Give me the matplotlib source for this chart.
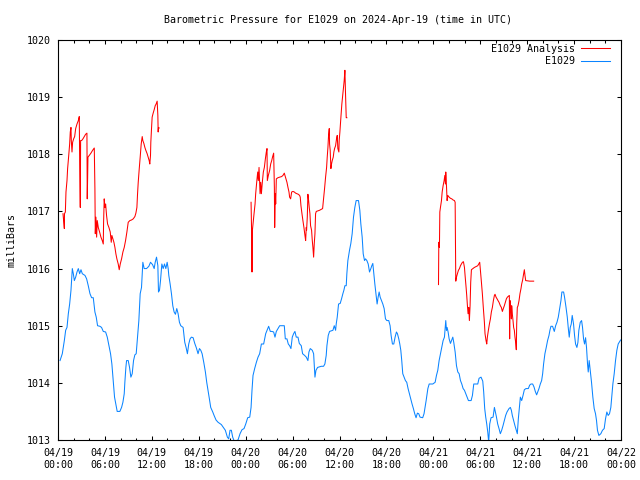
import numpy as np
import pandas as pd
import matplotlib
matplotlib.use("Agg")
import matplotlib.pyplot as plt
import matplotlib.dates as mdates

# hours after 2024-04-19 00:00 UTC, pressure in millibars
station_hours = [
    0.26, 0.55, 0.81, 0.98, 1.15, 1.32, 1.49, 1.66, 1.83, 1.96, 2.09, 2.26, 2.43, 2.60, 2.77, 2.94,
    3.11, 3.45, 3.66, 3.87, 4.09, 4.30, 4.51, 4.72, 4.89, 5.06, 5.36, 5.57, 5.79, 6.09, 6.30, 6.51,
    6.72, 6.89, 7.06, 7.23, 7.40, 7.57, 7.91, 8.13, 8.30, 8.47, 8.55, 8.68, 8.77, 8.98, 9.15, 9.32,
    9.49, 9.66, 9.83, 10.00, 10.17, 10.34, 10.51, 10.68, 10.85, 11.02, 11.32, 11.62, 11.83, 12.09,
    12.30, 12.43, 12.60, 12.77, 12.85, 12.98, 13.11, 13.28, 13.45, 13.62, 13.79, 13.96, 14.09, 14.17,
    14.34, 14.51, 14.68, 14.85, 15.02, 15.19, 15.36, 15.53, 15.70, 16.00, 16.21, 16.38, 16.55, 16.72,
    16.89, 17.06, 17.28, 17.49, 17.70, 17.91, 18.09, 18.26, 18.43, 18.64, 18.85, 19.02, 19.19, 19.36,
    19.53, 19.79, 19.96, 20.21, 20.47, 20.89, 21.15, 21.40, 21.66, 21.83, 22.00, 22.17, 22.34, 22.51,
    22.81, 23.02, 23.28, 23.53, 23.79,
    24.01, 24.26, 24.52, 24.69, 24.81, 24.94, 25.15, 25.37, 25.58, 25.79, 26.01, 26.30, 26.56, 26.73,
    26.94, 27.15, 27.37, 27.58, 27.75, 27.92, 28.13, 28.35, 28.77, 28.94, 29.07, 29.28, 29.45, 29.62,
    29.79, 29.96, 30.13, 30.30, 30.47, 30.69, 30.86, 31.11, 31.28, 31.54, 31.75, 31.96, 32.09, 32.26,
    32.52, 32.69, 32.77, 32.86, 32.99, 33.20, 33.67, 33.96, 34.13, 34.30, 34.39, 34.56, 34.73, 35.16,
    35.33, 35.50, 35.58, 35.71, 35.88, 36.09, 36.26, 36.43, 36.56, 36.69, 36.86, 36.94, 37.07, 37.28,
    37.45, 37.62, 37.79, 37.96, 38.13, 38.43, 38.60, 38.73, 38.90, 39.03, 39.20, 39.33, 39.50, 39.67,
    39.84, 40.01, 40.13, 40.26, 40.39, 40.52, 40.69, 40.81, 40.94, 41.07, 41.20, 41.37, 41.54, 41.71,
    41.88, 42.05, 42.30, 42.47, 42.60, 42.77, 42.94, 43.11, 43.28, 43.41, 43.58, 43.71, 43.84, 43.96,
    44.09, 44.26, 44.43, 44.60, 44.77, 44.94, 45.11, 45.28, 45.45, 45.62, 45.79, 45.96, 46.13, 46.30,
    46.64, 46.81,
    47.08, 47.30, 47.47, 47.93, 48.23, 48.40, 48.57, 48.74, 48.91, 49.08, 49.25, 49.42, 49.59, 49.68,
    49.76, 49.89, 50.02, 50.19, 50.36, 50.49, 50.61, 50.79, 50.96, 51.13, 51.30, 51.47, 51.64, 51.81,
    51.98, 52.15, 52.32, 52.49, 52.83, 53.00, 53.17, 53.68, 53.85, 54.10, 54.32, 54.44, 54.57, 54.70,
    54.83, 54.96, 55.08, 55.21, 55.38, 55.64, 55.81, 55.93, 56.06, 56.23, 56.40, 56.57, 56.74, 56.91,
    57.08, 57.25, 57.42, 57.68, 57.85, 57.98, 58.10, 58.27, 58.44, 58.61, 58.74, 58.87, 59.00, 59.13,
    59.30, 59.47, 59.64, 59.85, 60.15, 60.32, 60.49, 60.70, 60.87, 61.04, 61.21, 61.34, 61.51, 61.68,
    61.85, 61.98, 62.10, 62.27, 62.44, 62.61, 62.79, 62.91, 63.04, 63.25, 63.47, 63.64, 63.81, 63.98,
    64.15, 64.32, 64.44, 64.66, 64.78, 64.96, 65.13, 65.25, 65.38, 65.51, 65.64, 65.76, 65.93, 66.06,
    66.19, 66.36, 66.49, 66.61, 66.79, 66.96, 67.08, 67.21, 67.34, 67.47, 67.59, 67.72, 67.81, 67.93,
    68.06, 68.23, 68.40, 68.57, 68.74, 68.87, 68.99, 69.17, 69.42, 69.63, 69.85, 70.02, 70.19, 70.36,
    70.53, 70.70, 70.83, 70.96, 71.13, 71.30, 71.47, 71.64, 71.95,
]
station_mb = [
    1014.39, 1014.51, 1014.74, 1014.92, 1014.97, 1015.21, 1015.38, 1015.62, 1016.00, 1015.91, 1015.79,
    1015.85, 1015.94, 1016.00, 1015.91, 1015.98, 1015.91, 1015.88, 1015.82, 1015.70, 1015.56, 1015.49,
    1015.49, 1015.24, 1015.15, 1015.00, 1014.99, 1014.97, 1014.90, 1014.89, 1014.80, 1014.65, 1014.51,
    1014.33, 1014.04, 1013.75, 1013.63, 1013.50, 1013.50, 1013.57, 1013.66, 1013.81, 1014.01, 1014.27,
    1014.39, 1014.39, 1014.27, 1014.10, 1014.16, 1014.39, 1014.49, 1014.51, 1014.80, 1015.09, 1015.56,
    1015.67, 1016.11, 1016.00, 1016.00, 1016.04, 1016.11, 1016.07, 1016.00, 1016.11, 1016.20, 1016.05,
    1015.59, 1015.62, 1015.79, 1016.08, 1016.00, 1016.08, 1016.00, 1016.11, 1016.00, 1015.88, 1015.73,
    1015.56, 1015.35, 1015.24, 1015.20, 1015.30, 1015.21, 1015.06, 1015.00, 1014.97, 1014.71, 1014.62,
    1014.51, 1014.68, 1014.77, 1014.80, 1014.79, 1014.69, 1014.61, 1014.51, 1014.60, 1014.57, 1014.51,
    1014.36, 1014.19, 1014.01, 1013.87, 1013.72, 1013.57, 1013.49, 1013.43, 1013.35, 1013.31, 1013.27,
    1013.22, 1013.17, 1013.05, 1013.02, 1013.17, 1013.17, 1013.05, 1012.99, 1012.99, 1013.00, 1013.11,
    1013.18, 1013.20,
    1013.28, 1013.39, 1013.40, 1013.57, 1013.87, 1014.13, 1014.25, 1014.36, 1014.45, 1014.51, 1014.68,
    1014.68, 1014.86, 1014.92, 1014.99, 1014.90, 1014.90, 1014.89, 1014.80, 1014.90, 1014.95, 1015.00,
    1015.00, 1015.00, 1014.77, 1014.77, 1014.68, 1014.65, 1014.60, 1014.80, 1014.86, 1014.90, 1014.80,
    1014.80, 1014.69, 1014.65, 1014.51, 1014.48, 1014.45, 1014.39, 1014.54, 1014.60, 1014.57, 1014.51,
    1014.30, 1014.10, 1014.22, 1014.27, 1014.29, 1014.29, 1014.33, 1014.48, 1014.65, 1014.83, 1014.90,
    1014.92, 1015.00, 1014.92, 1015.03, 1015.15, 1015.38, 1015.39, 1015.47, 1015.56, 1015.62, 1015.70,
    1015.70, 1015.91, 1016.14, 1016.32, 1016.44, 1016.61, 1016.90, 1017.07, 1017.19, 1017.19, 1017.02,
    1016.78, 1016.55, 1016.26, 1016.14, 1016.17, 1016.14, 1016.08, 1015.94, 1016.00, 1016.05, 1016.09,
    1015.91, 1015.73, 1015.53, 1015.38, 1015.50, 1015.59, 1015.50, 1015.44, 1015.38, 1015.30, 1015.12,
    1015.09, 1015.09, 1015.00, 1014.83, 1014.68, 1014.68, 1014.80, 1014.89, 1014.86, 1014.77, 1014.68,
    1014.57, 1014.39, 1014.16, 1014.10, 1014.04, 1014.01, 1013.90, 1013.81, 1013.72, 1013.63, 1013.55,
    1013.46, 1013.39, 1013.47, 1013.46, 1013.40, 1013.39, 1013.46,
    1013.69, 1013.90, 1013.98, 1013.98, 1014.01, 1014.13, 1014.22, 1014.39, 1014.51, 1014.62, 1014.74,
    1014.80, 1015.09, 1014.92, 1014.97, 1014.89, 1014.77, 1014.69, 1014.75, 1014.80, 1014.71, 1014.54,
    1014.30, 1014.19, 1014.16, 1014.04, 1013.98, 1013.90, 1013.87, 1013.81, 1013.75, 1013.69, 1013.69,
    1013.78, 1013.98, 1013.98, 1014.08, 1014.10, 1014.03, 1013.84, 1013.55, 1013.40, 1013.28, 1013.14,
    1012.96, 1013.28, 1013.39, 1013.40, 1013.57, 1013.49, 1013.41, 1013.28, 1013.20, 1013.11, 1013.17,
    1013.25, 1013.34, 1013.43, 1013.49, 1013.55, 1013.57, 1013.52, 1013.43, 1013.34, 1013.25, 1013.17,
    1013.11, 1013.37, 1013.57, 1013.75, 1013.69, 1013.78, 1013.88, 1013.90, 1013.90, 1013.96, 1013.98,
    1013.98, 1013.93, 1013.85, 1013.79, 1013.84, 1013.90, 1013.98, 1014.04, 1014.16, 1014.33, 1014.51,
    1014.62, 1014.74, 1014.83, 1014.92, 1014.99, 1014.99, 1014.90, 1015.00, 1015.06, 1015.15, 1015.30,
    1015.44, 1015.59, 1015.59, 1015.50, 1015.33, 1015.15, 1014.97, 1014.80, 1014.97, 1015.03, 1015.18,
    1015.03, 1014.83, 1014.68, 1014.62, 1014.71, 1014.92, 1015.06, 1015.09, 1014.97, 1014.77, 1014.68,
    1014.79, 1014.62, 1014.33, 1014.19, 1014.39, 1014.22, 1014.01, 1013.75, 1013.55, 1013.46, 1013.34,
    1013.17, 1013.08, 1013.11, 1013.17, 1013.20, 1013.37, 1013.49, 1013.43, 1013.46, 1013.57, 1013.78,
    1013.98, 1014.16, 1014.39, 1014.57, 1014.68, 1014.75,
]

# analysis series, three separate runs
analysis1_hours = [
    0.64, 0.72, 0.81, 0.83, 0.94, 1.02, 1.15, 1.23, 1.36, 1.49, 1.57, 1.66, 1.70, 1.79, 1.87, 2.00,
    2.13, 2.26, 2.43, 2.60, 2.72, 2.77, 2.85, 2.89, 3.02, 3.19, 3.36, 3.53, 3.70, 3.74, 3.79, 3.83,
    4.00, 4.21, 4.43, 4.64, 4.72, 4.77, 4.85, 4.94, 5.02, 5.15, 5.32, 5.49, 5.66, 5.79, 5.83, 5.91,
    6.00, 6.09, 6.21, 6.34, 6.51, 6.68, 6.81, 6.89, 7.02, 7.15, 7.28, 7.40, 7.53, 7.70, 7.83, 7.96,
    8.13, 8.30, 8.47, 8.64, 8.81, 8.98, 9.19, 9.40, 9.62, 9.83, 9.96, 10.09, 10.17, 10.26, 10.38,
    10.51, 10.64, 10.77, 10.85, 10.98, 11.11, 11.23, 11.40, 11.53, 11.66, 11.74, 11.83, 11.87, 11.96,
    12.04, 12.17, 12.30, 12.43, 12.55, 12.68, 12.77, 12.81, 12.85, 12.94,
]
analysis1_mb = [
    1016.96, 1016.84, 1016.70, 1016.96, 1016.99, 1017.34, 1017.54, 1017.75, 1017.96, 1018.18, 1018.39,
    1018.47, 1018.24, 1018.04, 1018.21, 1018.27, 1018.31, 1018.45, 1018.53, 1018.59, 1018.66, 1017.89,
    1017.07, 1018.24, 1018.24, 1018.27, 1018.31, 1018.35, 1018.37, 1017.22, 1017.60, 1017.95, 1017.98,
    1018.02, 1018.07, 1018.11, 1017.40, 1016.61, 1016.90, 1016.55, 1016.84, 1016.72, 1016.64, 1016.55,
    1016.49, 1016.43, 1016.81, 1017.22, 1017.07, 1017.13, 1016.93, 1016.78, 1016.72, 1016.64, 1016.46,
    1016.58, 1016.52, 1016.46, 1016.37, 1016.26, 1016.17, 1016.08, 1015.98, 1016.08, 1016.17, 1016.29,
    1016.37, 1016.49, 1016.64, 1016.81, 1016.84, 1016.85, 1016.87, 1016.91, 1016.97, 1017.07, 1017.30,
    1017.51, 1017.73, 1017.95, 1018.18, 1018.31, 1018.24, 1018.19, 1018.12, 1018.07, 1018.01, 1017.95,
    1017.89, 1017.83, 1017.98, 1018.21, 1018.45, 1018.65, 1018.72, 1018.78, 1018.85, 1018.88, 1018.93,
    1018.68, 1018.39, 1018.47, 1018.46,
]
analysis2_hours = [
    24.69, 24.77, 24.81, 24.86, 24.94, 25.07, 25.20, 25.28, 25.41, 25.54, 25.62, 25.71, 25.84, 25.92,
    26.01, 26.13, 26.26, 26.39, 26.52, 26.64, 26.73, 26.77, 26.90, 27.07, 27.20, 27.33, 27.45, 27.58,
    27.67, 27.71, 27.79, 27.84, 27.92, 28.13, 28.35, 28.60, 28.77, 28.94, 29.11, 29.28, 29.41, 29.54,
    29.62, 29.75, 29.88, 30.05, 30.22, 30.39, 30.56, 30.73, 30.90, 30.98, 31.07, 31.20, 31.32, 31.45,
    31.58, 31.67, 31.75, 31.79, 31.88, 31.96, 32.05, 32.13, 32.22, 32.30, 32.43, 32.52, 32.60, 32.69,
    32.77, 32.86, 32.94, 33.03, 33.45, 33.84, 33.96, 34.09, 34.22, 34.35, 34.43, 34.52, 34.60, 34.69,
    34.73, 34.81, 34.90, 34.98, 35.07, 35.20, 35.28, 35.37, 35.50, 35.62, 35.71, 35.79, 35.92, 35.96,
    36.05, 36.18, 36.30, 36.43, 36.52, 36.60, 36.69, 36.77, 36.86, 36.94,
]
analysis2_mb = [
    1017.16, 1016.55, 1015.94, 1016.67, 1016.78, 1016.96, 1017.13, 1017.31, 1017.51, 1017.69, 1017.54,
    1017.77, 1017.31, 1017.51, 1017.31, 1017.51, 1017.69, 1017.77, 1017.92, 1018.04, 1018.10, 1017.54,
    1017.63, 1017.72, 1017.83, 1017.89, 1017.96, 1018.02, 1017.42, 1016.72, 1017.31, 1017.13, 1017.57,
    1017.59, 1017.60, 1017.61, 1017.63, 1017.67, 1017.59, 1017.51, 1017.42, 1017.34, 1017.25, 1017.22,
    1017.34, 1017.35, 1017.34, 1017.32, 1017.31, 1017.30, 1017.28, 1017.25, 1017.10, 1016.96, 1016.84,
    1016.72, 1016.58, 1016.49, 1016.72, 1016.67, 1016.90, 1017.30, 1017.19, 1017.07, 1016.96, 1016.75,
    1016.67, 1016.49, 1016.37, 1016.20, 1016.43, 1016.61, 1016.96, 1017.00, 1017.02, 1017.05, 1017.22,
    1017.40, 1017.60, 1017.77, 1017.95, 1018.12, 1018.33, 1018.45, 1018.18, 1018.07, 1017.75, 1017.83,
    1017.89, 1017.95, 1018.04, 1018.10, 1018.15, 1018.27, 1018.33, 1018.10, 1018.04, 1018.24, 1018.39,
    1018.65, 1018.88, 1019.06, 1019.18, 1019.29, 1019.47, 1019.06, 1018.64, 1018.64,
]
analysis3_hours = [
    48.66, 48.70, 48.78, 48.83, 48.91, 49.04, 49.13, 49.25, 49.38, 49.47, 49.55, 49.59, 49.68, 49.76,
    49.85, 50.02, 50.19, 50.36, 50.53, 50.70, 50.79, 50.83, 50.87, 50.96, 51.08, 51.21, 51.34, 51.47,
    51.59, 51.72, 51.85, 51.98, 52.06, 52.19, 52.27, 52.36, 52.44, 52.53, 52.61, 52.70, 52.78, 52.87,
    53.25, 53.68, 53.93, 54.02, 54.15, 54.27, 54.40, 54.53, 54.61, 54.74, 54.83, 54.91, 55.04, 55.17,
    55.30, 55.42, 55.55, 55.68, 55.81, 55.89, 56.02, 56.15, 56.27, 56.40, 56.57, 56.70, 56.83, 56.95,
    57.08, 57.21, 57.34, 57.47, 57.72, 57.76, 57.81, 57.89, 57.98, 58.02, 58.10, 58.19, 58.27, 58.36,
    58.44, 58.53, 58.61, 58.66, 58.74, 58.83, 58.96, 59.08, 59.21, 59.30, 59.42, 59.55, 59.64, 59.72,
    59.81, 60.32, 60.83,
]
analysis3_mb = [
    1015.72, 1016.46, 1016.37, 1016.99, 1017.07, 1017.19, 1017.34, 1017.45, 1017.54, 1017.63, 1017.48,
    1017.69, 1017.45, 1017.19, 1017.28, 1017.25, 1017.23, 1017.22, 1017.20, 1017.19, 1017.16, 1016.46,
    1015.78, 1015.85, 1015.91, 1015.97, 1016.00, 1016.05, 1016.08, 1016.11, 1016.12, 1016.02, 1015.88,
    1015.67, 1015.53, 1015.35, 1015.21, 1015.32, 1015.09, 1015.35, 1015.76, 1015.98, 1016.02, 1016.05,
    1016.11, 1015.97, 1015.76, 1015.56, 1015.30, 1015.06, 1014.86, 1014.74, 1014.68, 1014.80, 1014.92,
    1015.03, 1015.12, 1015.24, 1015.32, 1015.44, 1015.53, 1015.55, 1015.50, 1015.47, 1015.44, 1015.41,
    1015.35, 1015.32, 1015.25, 1015.30, 1015.35, 1015.41, 1015.47, 1015.50, 1015.53, 1014.77, 1015.44,
    1015.32, 1015.12, 1015.35, 1015.21, 1015.09, 1014.97, 1014.92, 1014.80, 1014.71, 1014.58, 1015.03,
    1015.32, 1015.35, 1015.44, 1015.56, 1015.65, 1015.73, 1015.80, 1015.91, 1015.98, 1015.88, 1015.79,
    1015.78, 1015.78,
]

start = pd.Timestamp("2024-04-19 00:00")


def to_time(hours):
    return start + pd.to_timedelta(hours, unit="h")


font = "DejaVu Sans Mono"
fs = 7.2
red = "#ff0000"
blue = "#0a84ff"

fig = plt.figure(figsize=(6.4, 4.8), dpi=100)
ax = fig.add_axes([58 / 640, 40 / 480, 563 / 640, 400 / 480])

first = True
for hrs, mb in [(analysis1_hours, analysis1_mb), (analysis2_hours, analysis2_mb),
                (analysis3_hours, analysis3_mb)]:
    ax.plot(to_time(hrs), mb, color=red, lw=0.75,
            label="E1029 Analysis" if first else None)
    first = False
ax.plot(to_time(station_hours), station_mb, color=blue, lw=0.75, label="E1029")

ax.set_xlim(start, start + pd.Timedelta(hours=72))
ax.set_ylim(1013, 1020)
ax.set_yticks(range(1013, 1021))

ax.xaxis.set_major_locator(mdates.HourLocator(byhour=[0, 6, 12, 18]))
ax.xaxis.set_minor_locator(mdates.HourLocator(byhour=range(0, 24, 2)))
ax.xaxis.set_major_formatter(mdates.DateFormatter("%m/%d\n%H:%M"))

ax.tick_params(which="both", direction="in", top=True, right=True, width=0.75,
               labelsize=fs, colors="black")
ax.tick_params(which="major", length=3.2)
ax.tick_params(which="minor", length=1.8)
ax.tick_params(axis="y", pad=5)
ax.tick_params(axis="x", pad=6)
for lab in ax.get_xticklabels() + ax.get_yticklabels():
    lab.set_fontfamily(font)
for sp in ax.spines.values():
    sp.set_linewidth(0.8)

fig.text(338 / 640, 1 - 20 / 480, "Barometric Pressure for E1029 on 2024-Apr-19 (time in UTC)",
         ha="center", va="center", fontsize=fs, family=font)
fig.text(12 / 640, 240 / 480, "milliBars", rotation=90, ha="center", va="center",
         fontsize=fs, family=font)

leg = ax.legend(loc="upper right", bbox_to_anchor=((610 - 58) / 563, 1 - 4 / 400),
                frameon=False, markerfirst=False, handlelength=2.9, handletextpad=0.6,
                labelspacing=0.25, borderpad=0, borderaxespad=0,
                prop={"family": font, "size": fs})

fig.savefig("out.png", dpi=100)
